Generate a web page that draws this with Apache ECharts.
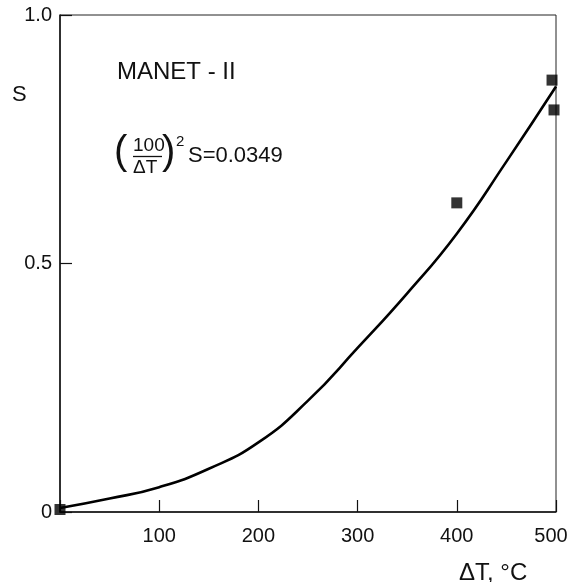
<!DOCTYPE html>
<html>
<head>
<meta charset="utf-8">
<script src="https://cdn.jsdelivr.net/npm/echarts@6/dist/echarts.min.js"></script>
<style>
  html, body { margin: 0; padding: 0; background: #fff; }
  #chart { width: 571px; height: 582px; }
</style>
</head>
<body>
<div id="chart"></div>
<script>
// measured points (ΔT, S)
const pointsT = [0, 400, 496, 498]
const pointsS = [0.005, 0.622, 0.869, 0.809]

// fitted curve
const curveT = [0, 50, 100, 150, 200, 250, 300, 350, 400, 450, 500]
const curveS = [0.008, 0.027, 0.05, 0.087, 0.14, 0.224, 0.33, 0.44, 0.56, 0.705, 0.856]

const xTicks = [0, 100, 200, 300, 400, 500]
const yTicks = [0, 0.5, 1.0]

const font = '"Liberation Sans", Arial, sans-serif'

const chart = echarts.init(document.getElementById('chart'))

chart.setOption({
  animation: false,
  backgroundColor: '#fff',
  grid: {
    left: 60, right: 15, top: 15, bottom: 70,
    containLabel: false, outerBoundsMode: 'none',
    show: true, borderColor: '#222', borderWidth: 1
  },
  xAxis: {
    type: 'value', min: xTicks[0], max: xTicks[xTicks.length - 1], interval: 100,
    axisLine: { lineStyle: { color: '#111', width: 1.5 } },
    axisTick: { inside: true, length: 12, lineStyle: { color: '#111', width: 1.2 } },
    splitLine: { show: false },
    axisLabel: {
      color: '#111', fontSize: 20, fontFamily: font, margin: 14,
      formatter: v => {
        if (v === xTicks[0]) return ''
        // last label sits a little left of its tick
        if (v === xTicks[xTicks.length - 1]) return '{m|' + v + '}'
        return String(v)
      },
      rich: { m: { fontSize: 20, fontFamily: font, color: '#111', padding: [0, 10, 0, 0] } }
    }
  },
  yAxis: {
    type: 'value', min: yTicks[0], max: yTicks[yTicks.length - 1], interval: 0.5,
    axisLine: { show: true, lineStyle: { color: '#111', width: 1.5 } },
    axisTick: { show: true, inside: true, length: 12, lineStyle: { color: '#111', width: 1.2 } },
    splitLine: { show: false },
    axisLabel: {
      color: '#111', fontSize: 20, fontFamily: font, margin: 8,
      formatter: v => (v === 0 ? '0' : v.toFixed(1))
    }
  },
  series: [
    {
      type: 'line',
      data: curveT.map((t, i) => [t, curveS[i]]),
      smooth: 0.5,
      showSymbol: false,
      lineStyle: { color: '#000', width: 2.6 },
      z: 2
    },
    {
      type: 'scatter',
      data: pointsT.map((t, i) => [t, pointsS[i]]),
      symbol: 'rect',
      symbolSize: 11,
      itemStyle: { color: '#000' },
      z: 3
    }
  ],
  graphic: [
    { type: 'text', left: 12, top: 84, style: { text: 'S', fontSize: 22, fontFamily: font, fill: '#111' } },
    { type: 'text', left: 459, top: 561, style: { text: 'ΔT, °C', fontSize: 24, fontFamily: font, fill: '#111' } },
    { type: 'text', left: 117, top: 60, style: { text: 'MANET - II', fontSize: 24, fontFamily: font, fill: '#111' } },
    // (100/ΔT)^2 S=0.0349
    { type: 'text', left: 114, top: 133, style: { text: '(', fontSize: 40, fontFamily: font, fill: '#111' } },
    { type: 'text', left: 133, top: 136, style: { text: '100', fontSize: 19, fontFamily: font, fill: '#111' } },
    { type: 'line', shape: { x1: 133, y1: 156.5, x2: 162, y2: 156.5 }, style: { stroke: '#111', lineWidth: 1.3 } },
    { type: 'text', left: 133, top: 158, style: { text: 'ΔT', fontSize: 19, fontFamily: font, fill: '#111' } },
    { type: 'text', left: 162, top: 133, style: { text: ')', fontSize: 40, fontFamily: font, fill: '#111' } },
    { type: 'text', left: 176, top: 134, style: { text: '2', fontSize: 15, fontFamily: font, fill: '#111' } },
    { type: 'text', left: 188, top: 145, style: { text: 'S=0.0349', fontSize: 22, fontFamily: font, fill: '#111' } }
  ]
})
</script>
</body>
</html>
